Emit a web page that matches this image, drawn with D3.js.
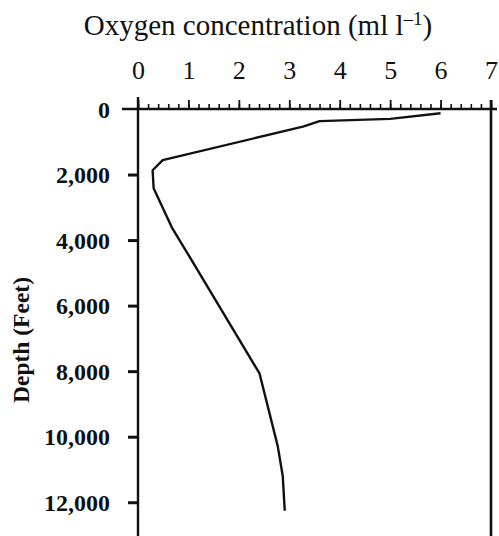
<!DOCTYPE html>
<html>
<head>
<meta charset="utf-8">
<script src="https://cdn.jsdelivr.net/npm/d3@7"></script>
<style>
  html, body { margin: 0; padding: 0; background: #fff; }
  svg { display: block; }
</style>
</head>
<body>
<svg id="chart" width="499" height="536"></svg>
<script>
// Data
const oxygen = [6.0, 5.0, 3.6, 3.27, 0.49, 0.29, 0.31, 0.67, 1.03, 2.41, 2.77, 2.87, 2.91];
const depth  = [130, 300, 370, 540, 1560, 1870, 2420, 3610, 4530, 8070, 10280, 11190, 12260];
const xMajorTicks = [0, 1, 2, 3, 4, 5, 6, 7];
const yTicks = [0, 2000, 4000, 6000, 8000, 10000, 12000];
const titleText = "Oxygen concentration (ml l";
const titleSup = "\u20131";
const yTitle = "Depth (Feet)";

const svg = d3.select("#chart");
const W = 499, H = 536;

const x = d3.scaleLinear().domain([0, 7]).range([138, 491]);
const y = d3.scaleLinear().domain([0, 13000]).range([109, 535]);

const serif = "'Liberation Serif', 'Times New Roman', serif";

// minor ticks on top axis
const minorVals = d3.range(0, 7.001, 0.2).map(v => +v.toFixed(1));
const topMinor = d3.axisTop(x).tickValues(minorVals).tickSize(5).tickFormat("");
const gMinor = svg.append("g").attr("transform", `translate(0,${y(0)})`).call(topMinor);
gMinor.select(".domain").remove();
gMinor.selectAll("line").attr("stroke", "#111").attr("stroke-width", 1.6);

// major ticks on top axis
const topAxis = d3.axisTop(x).tickValues(xMajorTicks).tickSize(9).tickPadding(21).tickFormat(d3.format("d"));
const gTop = svg.append("g").attr("transform", `translate(0,${y(0)})`).call(topAxis);
gTop.select(".domain").remove();
gTop.selectAll("line").attr("stroke", "#111").attr("stroke-width", 1.8);
gTop.selectAll("text").attr("font-family", serif).attr("font-size", 26).attr("fill", "#111");

// top axis line, extending past both sides
svg.append("line")
  .attr("x1", x.range()[0] - 16).attr("x2", x.range()[1] + 6)
  .attr("y1", y(0)).attr("y2", y(0))
  .attr("stroke", "#111").attr("stroke-width", 2.4);

// left axis
const leftAxis = d3.axisLeft(y).tickValues(yTicks).tickSize(10).tickPadding(18).tickFormat(d3.format(","));
const gLeft = svg.append("g").attr("transform", `translate(${x(0)},0)`).call(leftAxis);
gLeft.select(".domain").remove();
gLeft.selectAll("line").attr("stroke", "#111").attr("stroke-width", 3);
gLeft.selectAll("text").attr("font-family", serif).attr("font-size", 24)
  .attr("font-weight", "bold").attr("fill", "#111").attr("dy", "0.34em");
gLeft.selectAll(".tick").filter(d => d === 0).select("line").remove();

// left vertical axis line
svg.append("line")
  .attr("x1", x(0)).attr("x2", x(0))
  .attr("y1", y(0) - 12).attr("y2", H)
  .attr("stroke", "#111").attr("stroke-width", 2.4);

// right border line
svg.append("line")
  .attr("x1", x(7)).attr("x2", x(7))
  .attr("y1", y(0) - 9).attr("y2", H)
  .attr("stroke", "#111").attr("stroke-width", 2.6);

// data line
const pts = oxygen.map((v, i) => [v, depth[i]]);
svg.append("path")
  .datum(pts)
  .attr("fill", "none")
  .attr("stroke", "#111")
  .attr("stroke-width", 2.4)
  .attr("stroke-linejoin", "round")
  .attr("d", d3.line().x(d => x(d[0])).y(d => y(d[1])));

// title
const t = svg.append("text")
  .attr("x", 258).attr("y", 35)
  .attr("text-anchor", "middle")
  .attr("font-family", serif).attr("font-size", 29).attr("fill", "#111");
t.append("tspan").text(titleText);
t.append("tspan").attr("font-size", 19).attr("dy", -10).text(titleSup);
t.append("tspan").attr("dy", 10).text(")");

// y axis title
svg.append("text")
  .attr("transform", `translate(29,340) rotate(-90)`)
  .attr("text-anchor", "middle")
  .attr("font-family", serif).attr("font-size", 23.5).attr("font-weight", "bold")
  .attr("fill", "#111")
  .text(yTitle);
</script>
</body>
</html>
